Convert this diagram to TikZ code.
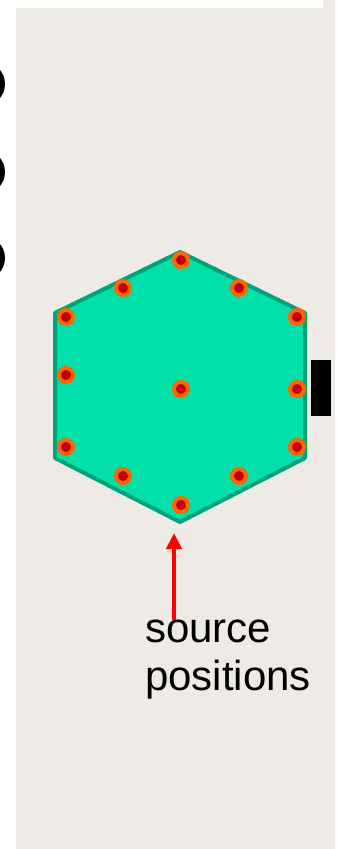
\documentclass[tikz,border=0pt]{standalone}
\usepackage{fontspec}
\setmainfont{Liberation Sans}
\usepackage{xcolor}
\usepackage{tikz}
\usetikzlibrary{
  arrows.meta,
  positioning,
  calc
}
\definecolor{srPaper}{HTML}{EEEAE5}
\definecolor{srHex}{HTML}{00E0A8}
\definecolor{srHexEdge}{HTML}{00A37A}
\definecolor{srRing}{HTML}{FF6600}
\definecolor{srCore}{HTML}{C00000}
\definecolor{srArrow}{HTML}{FF0000}
\tikzset{
  paper/.style={fill=srPaper, draw=none},
  hexcell/.style={fill=srHex, draw=srHexEdge, line width=4pt, line join=round},
  srcdot/.style={
    circle, inner sep=0pt, minimum size=14pt, fill=srCore, draw=srRing, line width=4pt
  },
  bullet/.style={fill=black, draw=none},
  blackbar/.style={fill=black, draw=none},
  srcarrow/.style={-{Triangle[length=16pt, width=15pt]}, line width=4pt, srArrow},
  srclabel/.style={font=\fontsize{42}{48}\selectfont, align=left, inner sep=0pt, text=black}
}

\begin{document}
\begin{tikzpicture}[x=1pt, y=-1pt]
  \useasboundingbox (0,0) rectangle (338,849);
  \clip (0,0) rectangle (338,849);
  % paper panel with white strip on top
  \fill[paper] (16,0) rectangle (335,849);
  \fill[white] (16,0) rectangle (323,8);
  % cut-off bullets at the left edge
  \fill[bullet] (-17,84) circle (22);
  \fill[bullet] (-17,172) circle (22);
  \fill[bullet] (-17,258) circle (22);
  % hexagonal cell
  \coordinate (hT) at (180,252);
  \coordinate (hTR) at (305,313);
  \coordinate (hBR) at (305,458);
  \coordinate (hB) at (180,522);
  \coordinate (hBL) at (55,458);
  \coordinate (hTL) at (55,313);
  \draw[hexcell] (hT) -- (hTR) -- (hBR) -- (hB) -- (hBL) -- (hTL) -- cycle;
  % source positions
  \node[srcdot] (s1) at (181,260) {};
  \node[srcdot] (s2) at (123,288) {};
  \node[srcdot] (s3) at (239,288) {};
  \node[srcdot] (s4) at (66,317) {};
  \node[srcdot] (s5) at (297,317) {};
  \node[srcdot] (s6) at (66,375) {};
  \node[srcdot] (s7) at (181,389) {};
  \node[srcdot] (s8) at (297,389) {};
  \node[srcdot] (s9) at (66,447) {};
  \node[srcdot] (s10) at (297,447) {};
  \node[srcdot] (s11) at (123,476) {};
  \node[srcdot] (s12) at (239,476) {};
  \node[srcdot] (s13) at (181,505) {};
  % black bar right of the cell
  \fill[blackbar] (311,360) rectangle (331,416);
  % label and arrow
  \node[srclabel, anchor=base west] (srclbl) at (145,690) {source\\positions};
  \coordinate (srctip) at (174,533);
  \draw[srcarrow] (srctip |- 0,620) -- (srctip);
\end{tikzpicture}
\end{document}
